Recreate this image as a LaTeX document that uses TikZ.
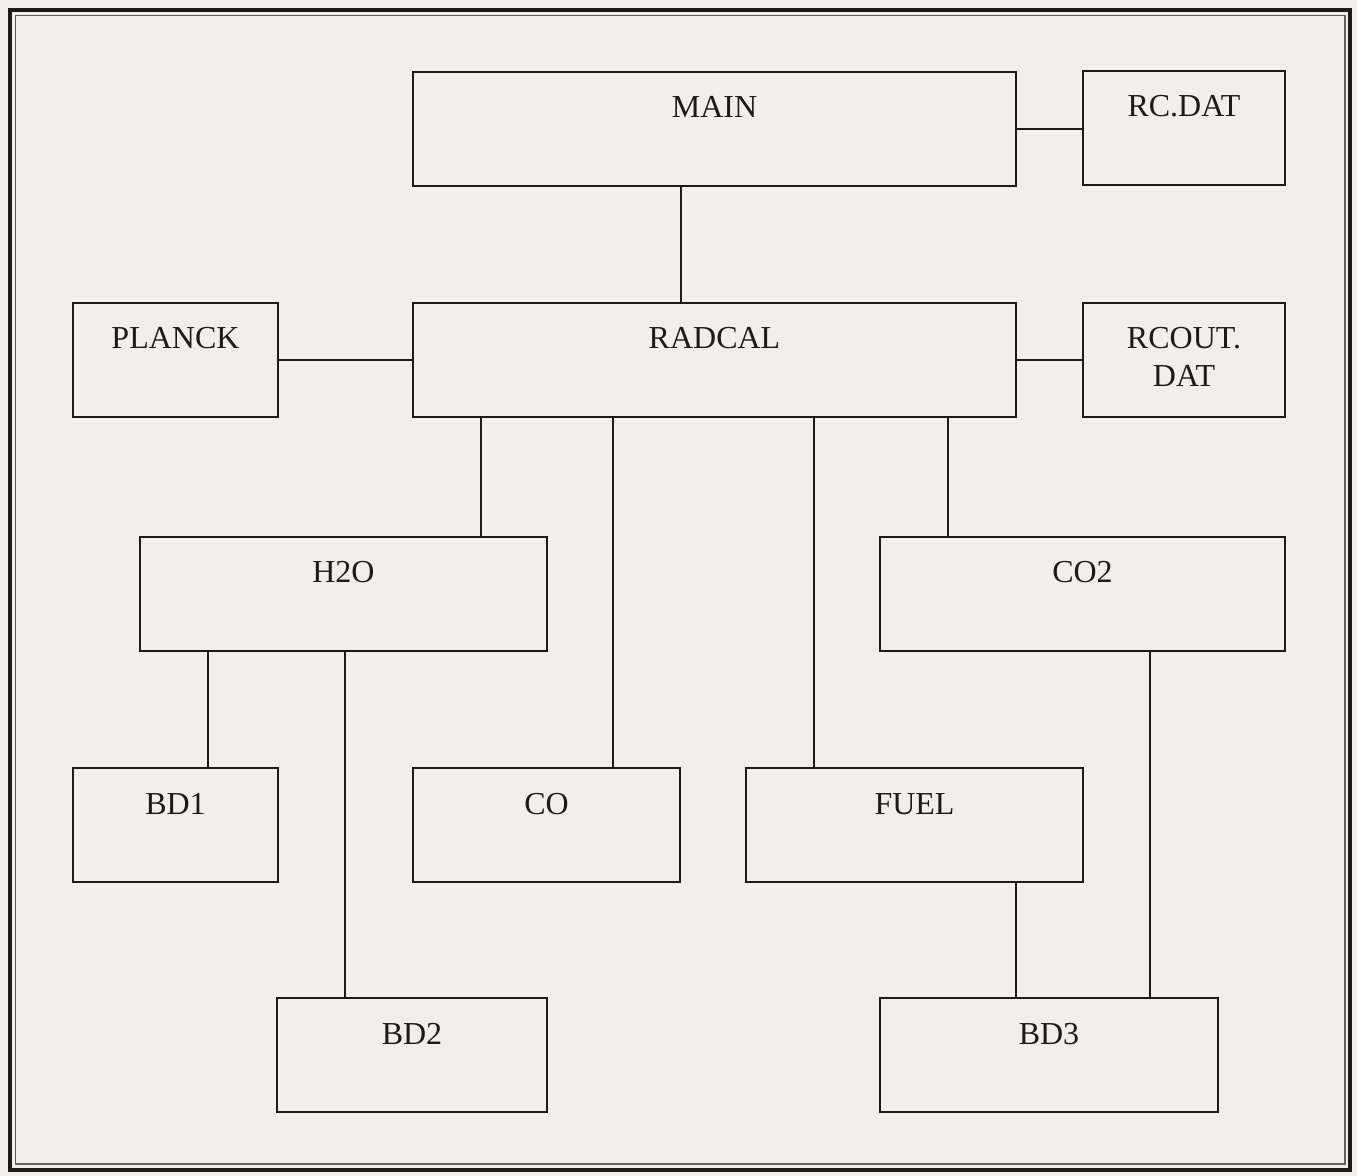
\documentclass[tikz,border=0pt]{standalone}
\usepackage{fontspec}
\setmainfont{Liberation Serif}
\usepackage{tikz}

\definecolor{paper}{RGB}{242,238,235}
\definecolor{ink}{RGB}{30,26,26}

\tikzset{
	modbox/.style={draw=ink, line width=1.3pt, inner xsep=0pt, inner ysep=0pt, align=center,
		text=ink, font=\fontsize{24}{28.5}\selectfont,
		text height=34.5pt, text depth=51pt, minimum width=#1*0.75pt},
	twoline/.style={text height=63pt, text depth=22.5pt},
	link/.style={draw=ink, line width=1.3pt}
}

\begin{document}
\begin{tikzpicture}[x=0.75pt,y=0.75pt,yscale=-1,xscale=1]
	%Background and frame
	\fill [paper] (0,0) rectangle (1357,1176);
	\useasboundingbox (0,0) rectangle (1357,1176);
	\draw [ink, line width=3pt] (10,10) rectangle (1350,1170);
	\draw [ink!70, line width=0.8pt] (15.5,15.5) rectangle (1345,1164);
	
	%Boxes
	\node [modbox=603] (main) at (714.5,129) {MAIN};
	\node [modbox=202] (rcdat) at (1184,128) {RC.DAT};
	\node [modbox=205] (planck) at (175.5,360) {PLANCK};
	\node [modbox=603] (radcal) at (714.5,360) {RADCAL};
	\node [modbox=202, twoline] (rcout) at (1184,360) {RCOUT.\\DAT};
	\node [modbox=407] (h2o) at (343.5,594) {H2O};
	\node [modbox=405] (co2) at (1082.5,594) {CO2};
	\node [modbox=205] (bd1) at (175.5,825) {BD1};
	\node [modbox=267] (co) at (546.5,825) {CO};
	\node [modbox=337] (fuel) at (914.5,825) {FUEL};
	\node [modbox=270] (bd2) at (412,1055) {BD2};
	\node [modbox=338] (bd3) at (1049,1055) {BD3};
	
	%Lines
	\draw [link] (main.east) -- (main.east -| rcdat.west);
	\draw [link] (main.south -| 681,0) -- (radcal.north -| 681,0);
	\draw [link] (planck.east) -- (radcal.west);
	\draw [link] (radcal.east) -- (rcout.west);
	\draw [link] (radcal.south -| 481,0) -- (h2o.north -| 481,0);
	\draw [link] (radcal.south -| 613,0) -- (co.north -| 613,0);
	\draw [link] (radcal.south -| 814,0) -- (fuel.north -| 814,0);
	\draw [link] (radcal.south -| 948,0) -- (co2.north -| 948,0);
	\draw [link] (h2o.south -| 208,0) -- (bd1.north -| 208,0);
	\draw [link] (h2o.south -| 345,0) -- (bd2.north -| 345,0);
	\draw [link] (fuel.south -| 1016,0) -- (bd3.north -| 1016,0);
	\draw [link] (co2.south -| 1150,0) -- (bd3.north -| 1150,0);
	
\end{tikzpicture}
\end{document}
